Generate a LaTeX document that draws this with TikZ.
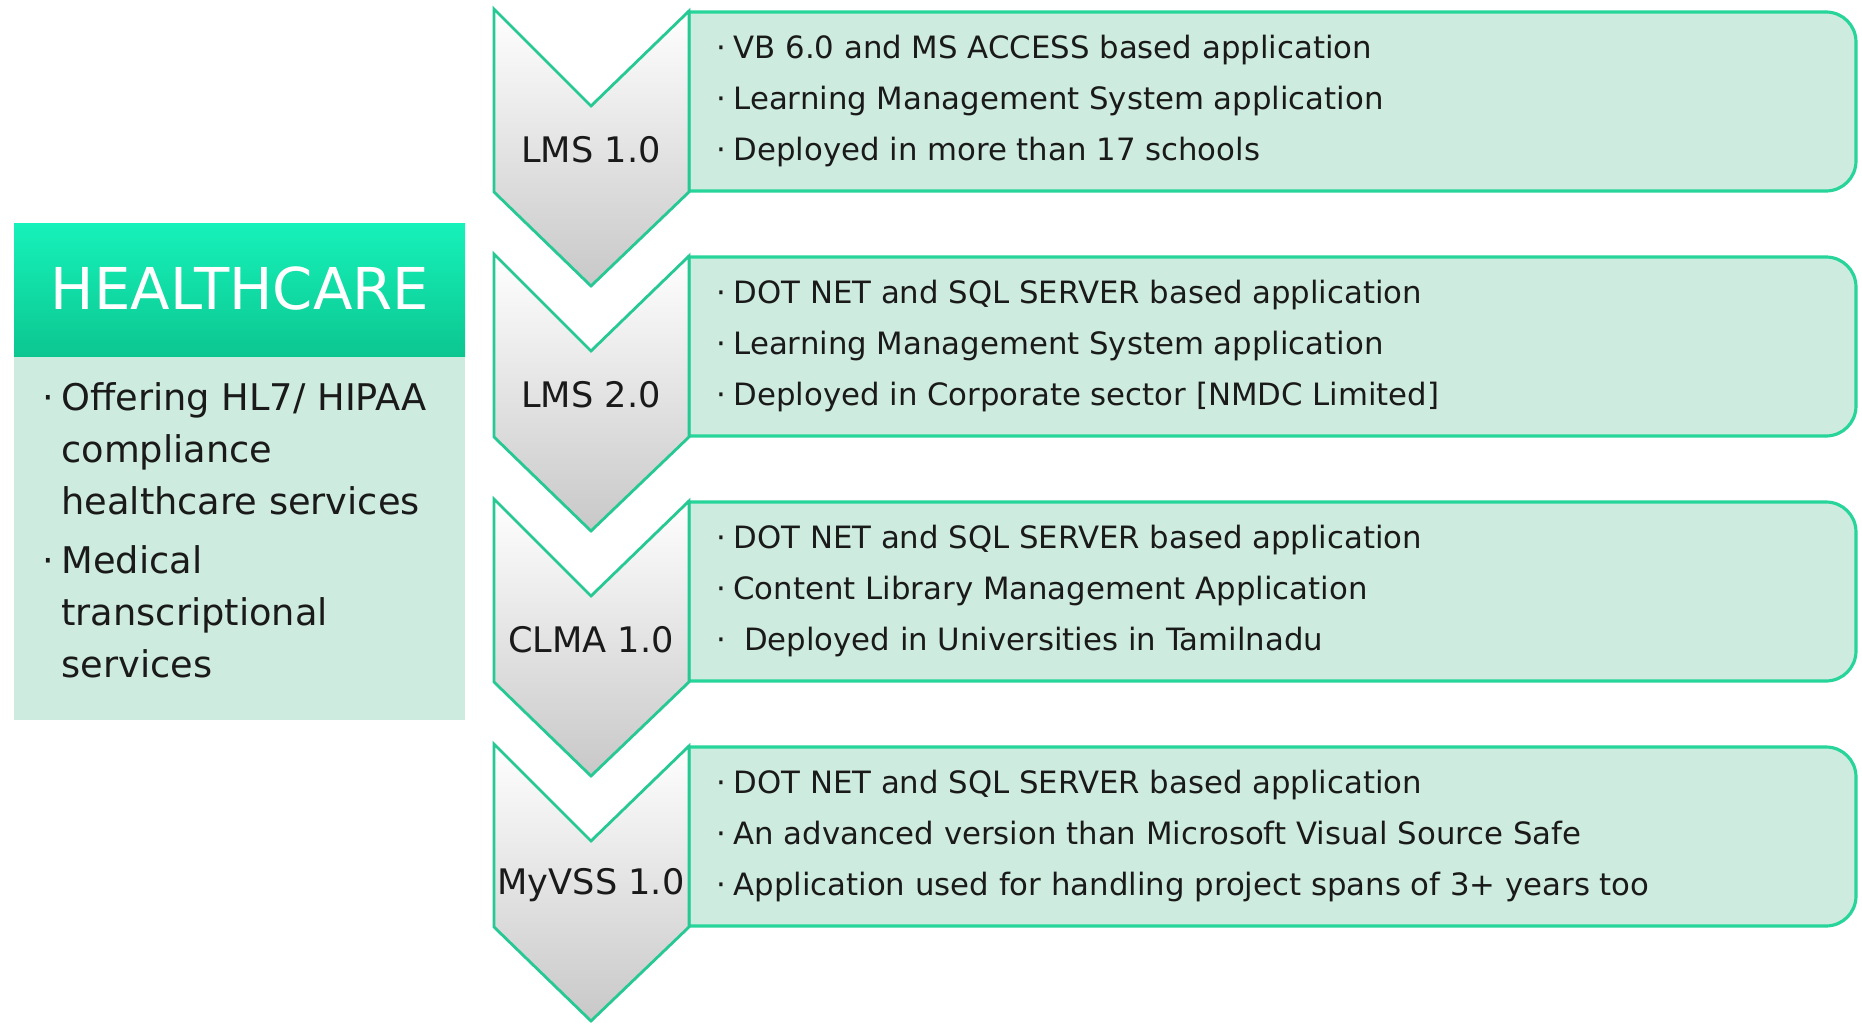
\documentclass[tikz,border=0pt]{standalone}
\usepackage{fontspec}
\setmainfont{DejaVu Sans}
\usepackage{tikz}
\definecolor{mint}{RGB}{205,235,222}
\definecolor{edgegreen}{RGB}{39,212,154}
\definecolor{chevedge}{RGB}{38,200,148}
\definecolor{chevgray}{RGB}{200,200,200}
\definecolor{headtop}{RGB}{22,242,186}
\definecolor{headbot}{RGB}{12,198,144}
\definecolor{ink}{RGB}{26,26,26}
\tikzstyle{card} = [fill=mint, draw=edgegreen, line width=0.9pt]
\tikzstyle{chevron} = [top color=white, middle color=white, bottom color=chevgray,
    draw=chevedge, line width=0.8pt, line join=miter]
\tikzstyle{item} = [anchor=west, inner sep=0pt, align=left, text=ink,
    font=\fontsize{8.75}{14.5}\selectfont]
\tikzstyle{tag} = [inner sep=0pt, text=ink, font=\fontsize{10}{12}\selectfont]
\newcommand{\bul}{·\kern2pt}
\newcommand{\ind}{\phantom{·}\kern2pt}

\begin{document}
\begin{tikzpicture}[x=0.01cm, y=-0.01cm]
    \useasboundingbox (0,0) rectangle (1862,1024);

    % healthcare panel
    \fill[mint] (14,356) rectangle (465,720);
    \shade[top color=headtop, bottom color=headbot] (14,223) rectangle (465,356);
    \node[text=white, font=\fontsize{16.4}{20}\selectfont] (health) at (240,289) {HEALTHCARE};
    \node[item, font=\fontsize{10.45}{14.8}\selectfont] (healthtxt) at (42,530)
      {\bul Offering HL7/ HIPAA\\ \ind compliance\\ \ind healthcare services\\[2pt]
       \bul Medical\\ \ind transcriptional\\ \ind services};

    % LMS 1.0
    \draw[card] (689,12) [rounded corners=8.5pt] -- (1856,12) -- (1856,191)
      [sharp corners] -- (689,191) -- cycle;
    \draw[chevron] (494,9) -- (591,106) -- (689,11) -- (689,192) -- (591,286) -- (494,192) -- cycle;
    \node[tag] (lms1) at (591,150) {LMS 1.0};
    \node[item] (lms1txt) at (716,101)
      {\bul VB 6.0 and MS ACCESS based application\\
       \bul Learning Management System application\\
       \bul Deployed in more than 17 schools};

    % LMS 2.0
    \draw[card] (689,257) [rounded corners=8.5pt] -- (1856,257) -- (1856,436)
      [sharp corners] -- (689,436) -- cycle;
    \draw[chevron] (494,254) -- (591,351) -- (689,256) -- (689,437) -- (591,531) -- (494,437) -- cycle;
    \node[tag] (lms2) at (591,395) {LMS 2.0};
    \node[item] (lms2txt) at (716,346)
      {\bul DOT NET and SQL SERVER based application\\
       \bul Learning Management System application\\
       \bul Deployed in Corporate sector [NMDC Limited]};

    % CLMA 1.0
    \draw[card] (689,502) [rounded corners=8.5pt] -- (1856,502) -- (1856,681)
      [sharp corners] -- (689,681) -- cycle;
    \draw[chevron] (494,499) -- (591,596) -- (689,501) -- (689,682) -- (591,776) -- (494,682) -- cycle;
    \node[tag] (clma) at (591,640) {CLMA 1.0};
    \node[item] (clmatxt) at (716,591)
      {\bul DOT NET and SQL SERVER based application\\
       \bul Content Library Management Application\\
       \bul\kern3pt Deployed in Universities in Tamilnadu};

    % MyVSS 1.0
    \draw[card] (689,747) [rounded corners=8.5pt] -- (1856,747) -- (1856,926)
      [sharp corners] -- (689,926) -- cycle;
    \draw[chevron] (494,744) -- (591,841) -- (689,746) -- (689,927) -- (591,1021) -- (494,927) -- cycle;
    \node[tag] (myvss) at (591,885) {MyVSS 1.0};
    \node[item] (myvsstxt) at (716,836)
      {\bul DOT NET and SQL SERVER based application\\
       \bul An advanced version than Microsoft Visual Source Safe\\
       \bul Application used for handling project spans of 3+ years too};
\end{tikzpicture}
\end{document}
